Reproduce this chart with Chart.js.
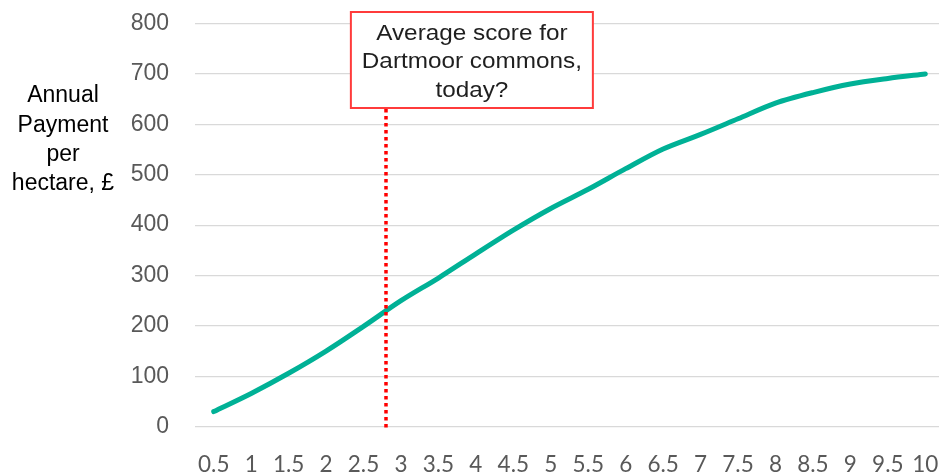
<!DOCTYPE html>
<html>
<head>
<meta charset="utf-8">
<script src="https://cdn.jsdelivr.net/npm/chart.js@4.4.1/dist/chart.umd.min.js"></script>
<style>
  html, body { margin: 0; padding: 0; background: #ffffff; }
  #frame { width: 939px; height: 473px; overflow: hidden; position: relative; }
  canvas { display: block; }
</style>
</head>
<body>
<div id="frame"><canvas id="c" width="960" height="473"></canvas></div>
<script>
// Score categories along the bottom
const scores = ['0.5','1','1.5','2','2.5','3','3.5','4','4.5','5','5.5','6','6.5','7','7.5','8','8.5','9','9.5','10'];
// Annual payment (£ per hectare) for each score
const payments = [30, 66, 106, 150, 199, 250, 295, 343, 390, 433, 471, 512, 551, 580, 611, 642, 663, 680, 691, 700];
// Y axis range
const yTicks = [0, 100, 200, 300, 400, 500, 600, 700, 800];
// Marker for the average common score and its call-out
const markerScore = 2.8;
const calloutScore = 4;
const calloutLines = ['Average score for', 'Dartmoor commons,', 'today?'];
const yTitleLines = ['Annual', 'Payment', 'per', 'hectare, £'];

// Convert a score (0.5 step) to a fractional category index
function scoreIndex(s) { return (s - parseFloat(scores[0])) / 0.5; }

const overlay = {
  id: 'overlay',
  afterDraw(chart) {
    const ctx = chart.ctx;
    const xs = chart.scales.x, ys = chart.scales.y;
    const area = chart.chartArea;

    // Horizontal y-axis title
    ctx.save();
    ctx.fillStyle = '#000000';
    ctx.font = '23px "Liberation Sans", Arial, sans-serif';
    ctx.textAlign = 'center';
    ctx.textBaseline = 'middle';
    const tx = 63, ty0 = 96, tlh = 29.2;
    yTitleLines.forEach((t, i) => ctx.fillText(t, tx, ty0 + i * tlh));
    ctx.restore();

    // Call-out box
    const bw = 242, bh = 96;
    const bcx = xs.getPixelForValue(scoreIndex(calloutScore)) - 4;
    const bx = bcx - bw / 2;
    const by = area.top - 11.5;
    ctx.save();
    ctx.fillStyle = '#ffffff';
    ctx.fillRect(bx, by, bw, bh);
    ctx.strokeStyle = '#ff3b3b';
    ctx.lineWidth = 2;
    ctx.strokeRect(bx, by, bw, bh);
    ctx.fillStyle = '#1f1f1f';
    ctx.font = '22.5px "Liberation Sans", Arial, sans-serif';
    ctx.textAlign = 'center';
    ctx.textBaseline = 'middle';
    calloutLines.forEach((t, i) => {
      ctx.save();
      ctx.translate(bcx, by + 22 + i * 28.2);
      ctx.scale(1.08, 1);
      ctx.fillText(t, 0, 0);
      ctx.restore();
    });
    ctx.restore();

    // Dotted marker line for the average score
    const mx = xs.getPixelForValue(scoreIndex(markerScore));
    ctx.save();
    ctx.strokeStyle = '#ff0000';
    ctx.lineWidth = 3.5;
    ctx.setLineDash([3.5, 3.5]);
    ctx.beginPath();
    ctx.moveTo(mx, by + bh + 1);
    ctx.lineTo(mx, ys.getPixelForValue(0) + 4);
    ctx.stroke();
    ctx.restore();
  }
};

new Chart(document.getElementById('c'), {
  type: 'line',
  data: {
    labels: scores,
    datasets: [{
      data: payments,
      borderColor: '#00b196',
      borderWidth: 5,
      borderCapStyle: 'round',
      borderJoinStyle: 'round',
      pointRadius: 0,
      tension: 0.3,
      fill: false
    }]
  },
  options: {
    responsive: false,
    animation: false,
    layout: { padding: { top: 23.5, right: 16, bottom: 0, left: 0 } },
    plugins: { legend: { display: false }, tooltip: { enabled: false } },
    scales: {
      x: {
        type: 'category',
        offset: true,
        grid: { display: false, drawTicks: false },
        border: { display: false },
        ticks: {
          autoSkip: false,
          maxRotation: 0,
          minRotation: 0,
          padding: 25,
          color: '#595959',
          font: { family: 'Lato, "Open Sans", sans-serif', size: 22.5 }
        },
        afterFit(scale) { scale.height = 46.3; scale.paddingLeft = 0; scale.paddingRight = 0; }
      },
      y: {
        min: yTicks[0],
        max: yTicks[yTicks.length - 1],
        afterBuildTicks(scale) { scale.ticks = yTicks.map(v => ({ value: v })); },
        grid: { color: '#d9d9d9', lineWidth: 1.2, drawTicks: false },
        border: { display: false },
        ticks: {
          padding: 26,
          color: '#595959',
          font: { family: '"Liberation Sans", Arial, sans-serif', size: 23 }
        },
        afterFit(scale) { scale.width = 195; scale.paddingTop = 0; scale.paddingBottom = 0; }
      }
    }
  },
  plugins: [overlay]
});
</script>
</body>
</html>
